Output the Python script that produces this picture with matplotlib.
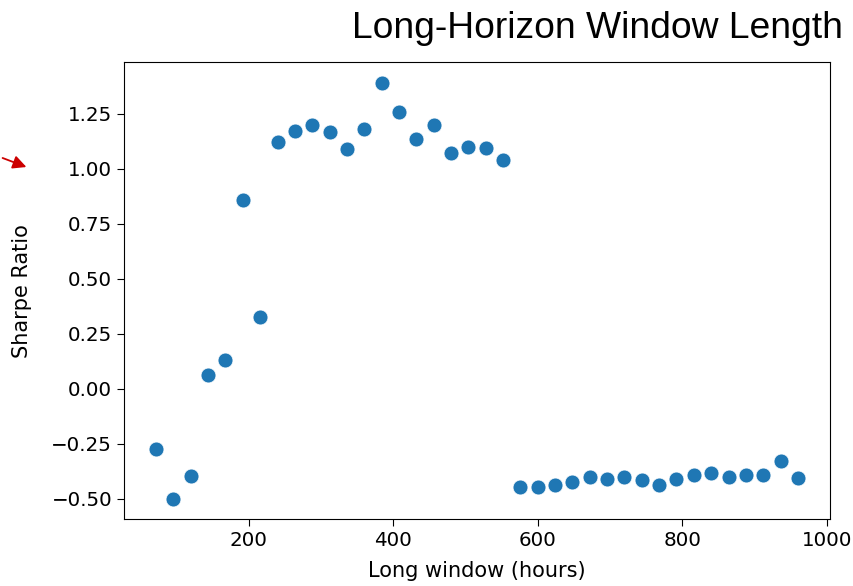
import matplotlib
matplotlib.use("Agg")
import matplotlib.pyplot as plt

# Data
long_window_hours = [72, 96, 120, 144, 168, 192, 216, 240, 264, 288, 312, 336, 360,
                     384, 408, 432, 456, 480, 504, 528, 552, 576, 600, 624, 648, 672,
                     696, 720, 744, 768, 792, 816, 840, 864, 888, 912, 936, 960]
sharpe_ratio = [-0.271, -0.499, -0.394, 0.062, 0.130, 0.860, 0.327, 1.121, 1.171, 1.197,
                1.168, 1.091, 1.180, 1.391, 1.259, 1.136, 1.201, 1.073, 1.098, 1.094,
                1.039, -0.444, -0.444, -0.438, -0.421, -0.402, -0.411, -0.402, -0.412,
                -0.435, -0.408, -0.390, -0.382, -0.399, -0.390, -0.393, -0.326, -0.405]

title_text = "Long-Horizon Window Length"
x_label = "Long window (hours)"
y_label = "Sharpe Ratio"

fig = plt.figure(figsize=(8.54, 5.86), dpi=100)
ax = fig.add_axes([0.1452, 0.1135, 0.8267, 0.7807])

ax.scatter(long_window_hours, sharpe_ratio, s=115, color="#1f77b4",
           edgecolors="white", linewidths=0.5, zorder=3)

ax.set_xlabel(x_label, fontsize=15, labelpad=8)
ax.set_ylabel(y_label, fontsize=15, labelpad=14)
ax.set_xticks([200, 400, 600, 800, 1000])
ax.set_yticks([-0.5, -0.25, 0.0, 0.25, 0.5, 0.75, 1.0, 1.25])
ax.tick_params(labelsize=14.3, length=5)

fig.text(0.987, 0.952, title_text, ha="right", va="center", fontsize=26.8,
         family=["Liberation Sans", "DejaVu Sans"])

# red arrow annotation at left edge
fig.add_artist(matplotlib.patches.FancyArrowPatch(
    (0.0, 1 - 157 / 586), (29 / 854, 1 - 168 / 586),
    transform=fig.transFigure, arrowstyle="-|>", mutation_scale=20,
    color="#cc0000", linewidth=1.3))

fig.savefig("out.png", dpi=100)
